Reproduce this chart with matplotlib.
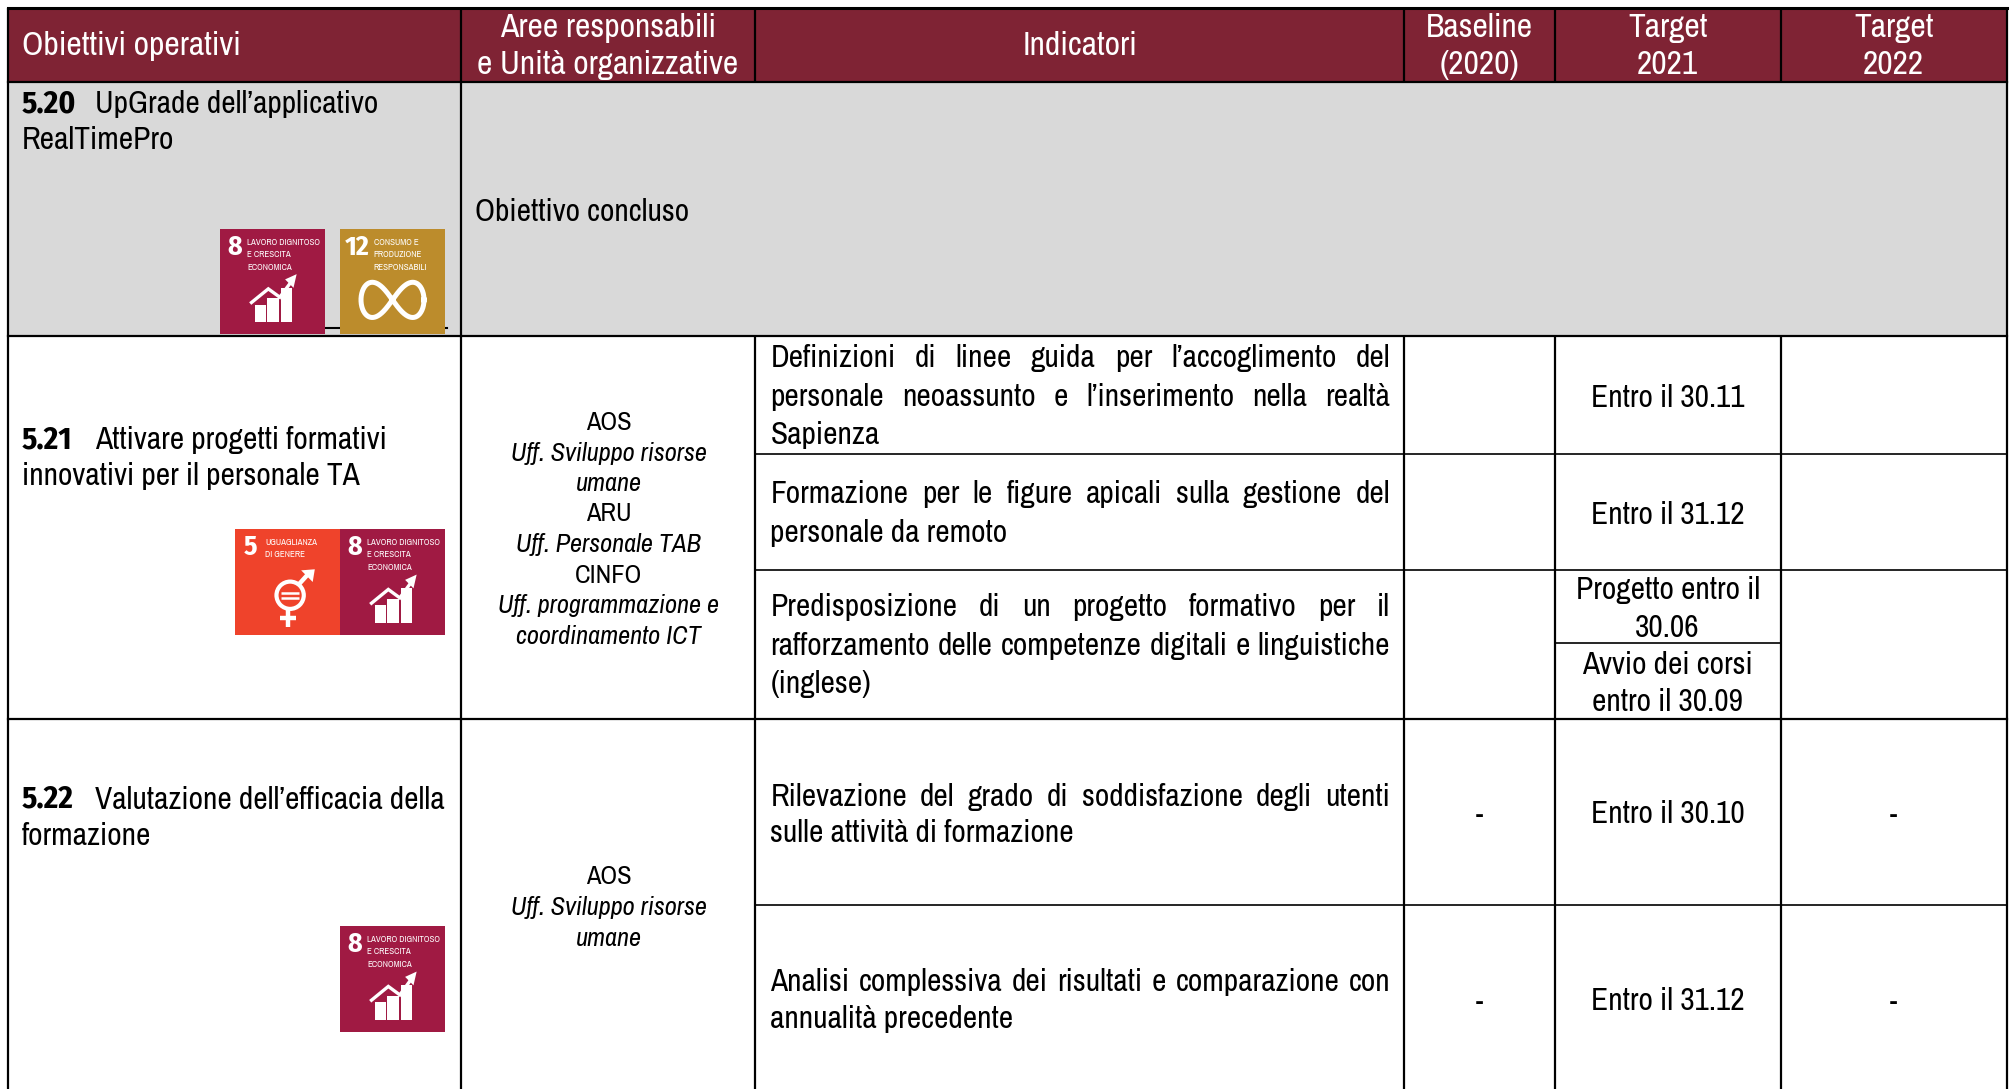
import numpy as np
import matplotlib
matplotlib.use("Agg")
import matplotlib.pyplot as plt
from matplotlib.patches import Rectangle, Circle, Polygon

BODY_FONT = ['Archivo Narrow', 'Roboto Condensed', 'Liberation Sans', 'DejaVu Sans']
BOLD_FONT = ['Fira Sans Condensed', 'Roboto Condensed', 'Liberation Sans', 'DejaVu Sans']
plt.rcParams['font.family'] = BODY_FONT

# ---- content -------------------------------------------------------
header_left = "Obiettivi operativi"
header_area = ["Aree responsabili", "e Unità organizzative"]
header_ind = "Indicatori"
header_base = ["Baseline", "(2020)"]
header_t21 = ["Target", "2021"]
header_t22 = ["Target", "2022"]

obj_520 = ("5.20", "UpGrade dell’applicativo", "RealTimePro")
obj_521 = ("5.21", "Attivare progetti formativi", "innovativi per il personale TA")
obj_522 = ("5.22", "Valutazione dell’efficacia della", "formazione")
concluded = "Obiettivo concluso"

area_521 = [("AOS", 'normal'), ("Uff. Sviluppo risorse", 'italic'), ("umane", 'italic'),
            ("ARU", 'normal'), ("Uff. Personale TAB", 'italic'), ("CINFO", 'normal'),
            ("Uff. programmazione e", 'italic'), ("coordinamento ICT", 'italic')]
area_521_y = [328, 352, 376, 399, 423, 447, 471, 495]
area_522 = [("AOS", 'normal'), ("Uff. Sviluppo risorse", 'italic'), ("umane", 'italic')]
area_522_y = [682, 706, 730]

# (text, y, justified)
indicators = [
    ("Definizioni di linee guida per l’accoglimento del", 278, True),
    ("personale neoassunto e l’inserimento nella realtà", 308, True),
    ("Sapienza", 338, False),
    ("Formazione per le figure apicali sulla gestione del", 384, True),
    ("personale da remoto", 414, False),
    ("Predisposizione di un progetto formativo per il", 472, True),
    ("rafforzamento delle competenze digitali e linguistiche", 502, True),
    ("(inglese)", 532, False),
    ("Rilevazione del grado di soddisfazione degli utenti", 620, True),
    ("sulle attività di formazione", 648, False),
    ("Analisi complessiva dei risultati e comparazione con", 764, True),
    ("annualità precedente", 793, False),
]
targets_2021 = [("Entro il 30.11", 309), ("Entro il 31.12", 400), ("Progetto entro il", 459),
                ("30.06", 488), ("Avvio dei corsi", 517), ("entro il 30.09", 546),
                ("Entro il 30.10", 633), ("Entro il 31.12", 779)]
dash_y = [634, 780]

# ---- layout --------------------------------------------------------
W, H = 2013, 1089
S = W / 1568
X = [8, 461, 755, 1404, 1555, 1781, 2007]
Y_TOP, Y_HEAD, Y_GREY, Y_522 = 8, 82, 336, 719
Y_SUB = [454, 570, 905]
Y_TSUB = 643
BURGUNDY = "#7F2334"
GREY = "#D9D9D9"
FS = 22.6
FS_AREA = 19
FS_HEAD = 24.2
DY = 1.2  # small vertical nudge of the text baselines

fig = plt.figure(figsize=(W / 100, H / 100), dpi=100, facecolor='white')
ax = fig.add_axes([0, 0, 1, 1])
ax.set_xlim(0, W)
ax.set_ylim(H, 0)
ax.axis('off')
renderer = fig.canvas.get_renderer()


def T(x, y, s, ha='left', fs=FS, color='black', **kw):
    return ax.text(x, y + DY, s, ha=ha, va='center', fontsize=fs, color=color, zorder=6, **kw)


def width(t):
    return t.get_window_extent(renderer).width


def justified(s, x0, x1, y, fs=FS):
    words = s.split()
    ts = [T(x0, y, w, fs=fs) for w in words]
    ws = [width(t) for t in ts]
    gap = (x1 - x0 - sum(ws)) / (len(words) - 1)
    x = x0
    for t, w_ in zip(ts, ws):
        t.set_x(x)
        x += w_ + gap


# backgrounds
ax.add_patch(Rectangle((X[0], Y_TOP), X[-1] - X[0], Y_HEAD - Y_TOP, fc=BURGUNDY, ec='none', zorder=1))
ax.add_patch(Rectangle((X[0], Y_HEAD), X[-1] - X[0], Y_GREY - Y_HEAD, fc=GREY, ec='none', zorder=1))

# grid lines
LW = 1.6
for x in X[1:-1]:
    ax.plot([x, x], [Y_TOP, Y_HEAD], color='black', lw=LW, zorder=2, solid_capstyle='butt')
    ax.plot([x, x], [Y_GREY, H], color='black', lw=LW, zorder=2, solid_capstyle='butt')
ax.plot([X[1], X[1]], [Y_HEAD, Y_GREY], color='black', lw=LW, zorder=2)
for x in (X[0], X[-1]):
    ax.plot([x, x], [Y_TOP, H], color='black', lw=LW, zorder=2, solid_capstyle='butt')
for y, lw in ((Y_TOP, 2.2), (Y_HEAD, LW), (Y_GREY, LW), (Y_522, LW)):
    ax.plot([X[0], X[-1]], [y, y], color='black', lw=lw, zorder=2, solid_capstyle='projecting')
for y in Y_SUB:
    ax.plot([X[2], X[-1]], [y, y], color='black', lw=1.2, zorder=2, solid_capstyle='butt')
ax.plot([X[4], X[5]], [Y_TSUB, Y_TSUB], color='black', lw=1.2, zorder=2, solid_capstyle='butt')

# header text
T(17 * S, 35 * S, header_left, fs=FS_HEAD, color='white')
for s, yy in zip(header_area, (21, 50)):
    T(473.5 * S, yy * S, s, ha='center', fs=FS_HEAD, color='white')
T(841 * S, 35 * S, header_ind, ha='center', fs=FS_HEAD, color='white')
for cx, lines in ((1152.5, header_base), (1299, header_t21), (1475, header_t22)):
    for s, yy in zip(lines, (21, 50)):
        T(cx * S, yy * S, s, ha='center', fs=FS_HEAD, color='white')

# objective column
for (num, l1, l2), y1, y2 in ((obj_520, 80, 108), (obj_521, 342, 370), (obj_522, 622, 650)):
    T(17 * S, y1 * S, num, fontweight='bold', family=BOLD_FONT)
    T(74 * S, y1 * S, l1)
    T(17 * S, y2 * S, l2)
T(370 * S, 164 * S, concluded)

# areas
for (s, st), yy in list(zip(area_521, area_521_y)) + list(zip(area_522, area_522_y)):
    T(474 * S, yy * S, s, ha='center', fs=FS_AREA, style=st)

# indicators
for s, yy, just in indicators:
    if just:
        justified(s, 600 * S, 1083 * S, yy * S)
    else:
        T(600 * S, yy * S, s)

# targets
for s, yy in targets_2021:
    T(1299 * S, yy * S, s, ha='center')
for yy in dash_y:
    T(1152 * S, yy * S, "-", ha='center', fs=19)
    T(1475 * S, yy * S, "-", ha='center', fs=19)


# ---- SDG icons ------------------------------------------------------
def icon_base(x0, y0, w, h, color, num, lines, numx=0.14, textx=0.26, fs=6.4):
    ax.add_patch(Rectangle((x0, y0), w, h, fc=color, ec='none', zorder=3))
    ax.text(x0 + numx * w, y0 + 0.175 * h, num, color='white', fontsize=20, fontweight='bold',
            family=BOLD_FONT, ha='center', va='center', zorder=5)
    for i, s in enumerate(lines):
        ax.text(x0 + textx * w, y0 + (0.127 + 0.118 * i) * h, s, color='white', fontsize=fs,
                ha='left', va='center', zorder=5)


def icon_8(x0, y0, w=105, h=105):
    P = lambda u, v: (x0 + u * w, y0 + v * h)
    icon_base(x0, y0, w, h, "#A01A43", "8", ["LAVORO DIGNITOSO", "E CRESCITA", "ECONOMICA"])
    for (a, b, top) in ((.33, .44, .72), (.45, .56, .66), (.58, .69, .56)):
        ax.add_patch(Polygon([P(a, top), P(b, top), P(b, .885), P(a, .885)], fc='white', ec='none', zorder=4))
    pts = [P(.30, .70), P(.46, .57), P(.57, .65), P(.68, .50)]
    ax.plot(*zip(*pts), color='white', lw=2.4, zorder=5, solid_joinstyle='miter')
    ax.add_patch(Polygon([P(.73, .43), P(.62, .48), P(.70, .56)], fc='white', ec='none', zorder=5))


def icon_12(x0, y0, w=105, h=105):
    icon_base(x0, y0, w, h, "#BC8C2C", "12", ["CONSUMO E", "PRODUZIONE", "RESPONSABILI"],
              numx=0.165, textx=0.32)
    t = np.linspace(0, 2 * np.pi, 300)
    d = 1 + 0.55 * np.sin(t) ** 2
    xs = x0 + (0.5 + 0.30 * np.cos(t) / d) * w
    ys = y0 + (0.675 + 0.36 * np.sin(t) * np.cos(t) * 1.45 / d * 0.8) * h
    ax.plot(xs, ys, color='white', lw=3.6, zorder=5)


def icon_5(x0, y0, w=105, h=106):
    P = lambda u, v: (x0 + u * w, y0 + v * h)
    icon_base(x0, y0, w, h, "#EF432B", "5", ["UGUAGLIANZA", "DI GENERE"], numx=0.15, textx=0.29)
    ax.add_patch(Circle(P(.525, .625), .13 * w, fc='none', ec='white', lw=3, zorder=5))
    for v in (.60, .655):
        ax.plot(*zip(P(.44, v), P(.61, v)), color='white', lw=1.8, zorder=5, solid_capstyle='butt')
    ax.plot(*zip(P(.505, .76), P(.505, .92)), color='white', lw=3.2, zorder=5, solid_capstyle='butt')
    ax.plot(*zip(P(.43, .84), P(.58, .84)), color='white', lw=3.2, zorder=5, solid_capstyle='butt')
    ax.plot(*zip(P(.61, .52), P(.72, .40)), color='white', lw=3.2, zorder=5, solid_capstyle='butt')
    ax.add_patch(Polygon([P(.76, .38), P(.63, .39), P(.74, .50)], fc='white', ec='none', zorder=5))


ax.plot([325, 447], [328, 328], color='black', lw=1.5, zorder=2)
icon_8(220, 229)
icon_12(340, 229)
icon_5(235, 529)
icon_8(340, 529, h=106)
icon_8(340, 926, h=106)

fig.savefig("out.png", dpi=100, facecolor='white')
